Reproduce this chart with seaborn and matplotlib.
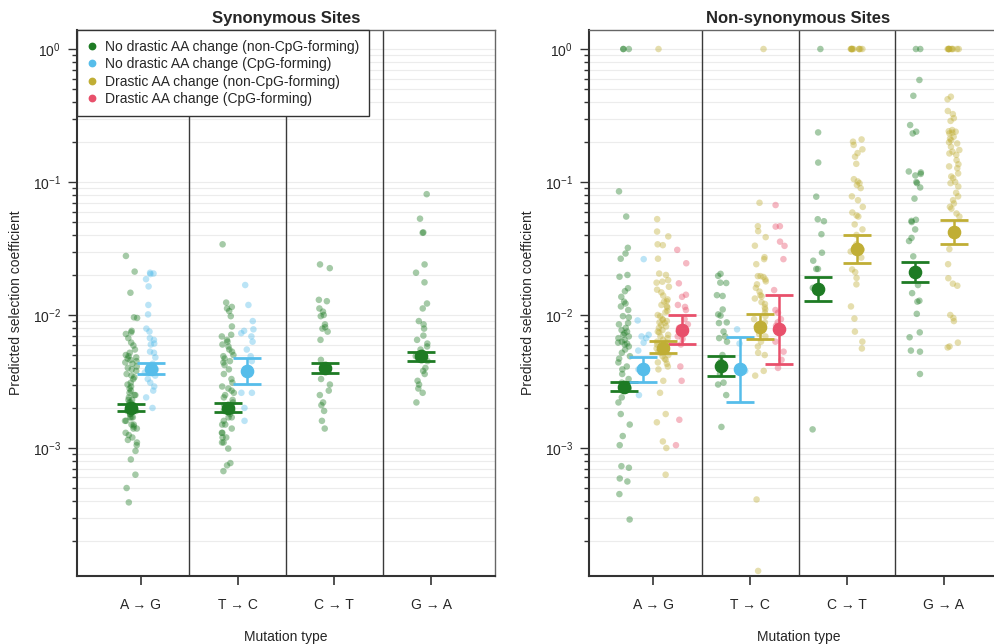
import numpy as np
import pandas as pd
import matplotlib
matplotlib.use("Agg")
import matplotlib.pyplot as plt
from matplotlib.lines import Line2D
from matplotlib.ticker import LogLocator, NullFormatter
import seaborn as sns

# ---------------- data ----------------
categories = ["A → G", "T → C", "C → T", "G → A"]
group_labels = [
    "No drastic AA change (non-CpG-forming)",
    "No drastic AA change (CpG-forming)",
    "Drastic AA change (non-CpG-forming)",
    "Drastic AA change (CpG-forming)",
]

# Synonymous sites: individual points
syn_AG_noncpg = [0.0278, 0.0212, 0.0147, 0.0096, 0.0095, 0.0076, 0.0074, 0.0072, 0.0067, 0.0062,
                 0.0059, 0.0055, 0.0052, 0.0050, 0.0049, 0.0048, 0.0047, 0.0046, 0.0045, 0.0044,
                 0.0043, 0.0041, 0.0040, 0.0039, 0.0038, 0.0036, 0.0035, 0.0034, 0.0033, 0.0031,
                 0.0030, 0.0029, 0.0028, 0.0027, 0.0026, 0.0025, 0.0025, 0.0024, 0.0023, 0.0023,
                 0.0022, 0.0022, 0.0021, 0.0021, 0.0020, 0.0020, 0.0020, 0.0019, 0.0019, 0.0019,
                 0.0018, 0.0018, 0.0017, 0.0017, 0.0017, 0.0016, 0.0016, 0.0015, 0.0015, 0.00145,
                 0.0014, 0.0014, 0.0013, 0.00125, 0.0012, 0.00115, 0.0011, 0.00105, 0.00095,
                 0.00082, 0.00063, 0.0005, 0.00039]
syn_AG_cpg = [0.0208, 0.0205, 0.0203, 0.0186, 0.0164, 0.0119, 0.0101, 0.0079, 0.0075, 0.0067,
              0.0065, 0.0061, 0.0060, 0.0053, 0.0052, 0.0048, 0.0043, 0.0041, 0.0039, 0.0037,
              0.0035, 0.0033, 0.0031, 0.0029, 0.0027, 0.0024, 0.0020]
syn_TC_noncpg = [0.034, 0.0124, 0.0115, 0.0112, 0.0107, 0.0098, 0.0082, 0.0071, 0.0069, 0.0065,
                 0.0063, 0.0060, 0.0058, 0.0055, 0.0053, 0.0050, 0.0049, 0.0047, 0.0045, 0.0044,
                 0.0042, 0.0039, 0.0036, 0.0033, 0.0031, 0.0029, 0.0028, 0.0027, 0.0026, 0.0025,
                 0.0024, 0.0023, 0.0022, 0.0021, 0.0020, 0.0020, 0.0019, 0.0019, 0.0018, 0.0017,
                 0.0017, 0.0016, 0.0015, 0.0015, 0.0014, 0.0013, 0.0013, 0.0012, 0.0012, 0.0011,
                 0.0011, 0.00099, 0.00077, 0.00074, 0.00067]
syn_TC_cpg = [0.0168, 0.0119, 0.0090, 0.0078, 0.0076, 0.0073, 0.0069, 0.0063, 0.0055, 0.0049,
              0.0045, 0.0040, 0.0026, 0.0026, 0.0020, 0.0016]
syn_CT_noncpg = [0.024, 0.0225, 0.0130, 0.0127, 0.0112, 0.0106, 0.0100, 0.0098, 0.0085, 0.0081,
                 0.0079, 0.0075, 0.0065, 0.0046, 0.0041, 0.0038, 0.0033, 0.0030, 0.0027, 0.0025,
                 0.0022, 0.0021, 0.0019, 0.0016, 0.0014]
syn_GA_noncpg = [0.081, 0.053, 0.0418, 0.0415, 0.024, 0.0208, 0.0176, 0.0122, 0.0112, 0.0090,
                 0.0085, 0.0079, 0.0070, 0.0065, 0.0061, 0.0058, 0.0055, 0.0052, 0.0049, 0.0045,
                 0.0040, 0.0038, 0.0036, 0.0032, 0.0030, 0.0028, 0.0026, 0.0022]

# Non-synonymous sites: individual points
non_AG_noncpg = [1.0, 1.0, 1.0, 0.085, 0.055, 0.032, 0.029, 0.0265, 0.0200, 0.0194, 0.0159, 0.0151,
                 0.0137, 0.0126, 0.0122, 0.0116, 0.0109, 0.0098, 0.0096, 0.0087, 0.0085, 0.0080,
                 0.0077, 0.0075, 0.0073, 0.0071, 0.0069, 0.0067, 0.0065, 0.0063, 0.0062, 0.0061,
                 0.0060, 0.0058, 0.0055, 0.0052, 0.0049, 0.0047, 0.0044, 0.0041, 0.0039, 0.0036,
                 0.0033, 0.0031, 0.0028, 0.0027, 0.0024, 0.0022, 0.0018, 0.0015, 0.00123, 0.00105,
                 0.00073, 0.00071, 0.00059, 0.00056, 0.00045, 0.00029]
non_AG_cpg = [0.0263, 0.0091, 0.0071, 0.0069, 0.0067, 0.0062, 0.0054, 0.0039, 0.0025]
non_AG_drastic = [1.0, 0.0526, 0.0424, 0.039, 0.034, 0.0335, 0.0265, 0.0205, 0.0200, 0.0183, 0.0178,
                  0.0175, 0.0163, 0.0155, 0.0148, 0.0140, 0.0131, 0.0127, 0.0126, 0.0119, 0.0116,
                  0.0114, 0.0107, 0.0105, 0.0100, 0.0098, 0.0093, 0.0092, 0.0090, 0.0088, 0.0087,
                  0.0084, 0.0082, 0.0080, 0.0077, 0.0075, 0.0074, 0.0071, 0.0069, 0.0067, 0.0065,
                  0.0063, 0.0062, 0.0060, 0.0058, 0.0056, 0.0055, 0.0053, 0.0052, 0.0050, 0.0049,
                  0.0047, 0.0046, 0.0044, 0.0043, 0.0041, 0.0039, 0.0032, 0.0026, 0.0018, 0.00156,
                  0.00112, 0.00100, 0.00063]
non_AG_drastic_cpg = [0.0309, 0.0245, 0.0173, 0.0142, 0.0137, 0.0119, 0.0115, 0.0109, 0.0093,
                      0.0085, 0.0080, 0.0075, 0.0069, 0.0066, 0.0060, 0.0041, 0.0032, 0.00163, 0.00105]
non_TC_noncpg = [0.0204, 0.0197, 0.0175, 0.0174, 0.0141, 0.0139, 0.0110, 0.0101, 0.0099, 0.0088,
                 0.0087, 0.0075, 0.0069, 0.0067, 0.0063, 0.0050, 0.0045, 0.0041, 0.0036, 0.0031,
                 0.0030, 0.0025, 0.00144]
non_TC_cpg = [0.0078, 0.0061, 0.0038]
non_TC_drastic = [1.0, 0.0698, 0.0465, 0.0427, 0.0385, 0.0332, 0.0272, 0.0263, 0.0241, 0.0196,
                  0.0196, 0.0193, 0.0185, 0.0179, 0.0170, 0.0160, 0.0150, 0.0141, 0.0138, 0.0133,
                  0.0125, 0.0121, 0.0114, 0.0110, 0.0104, 0.0098, 0.0093, 0.0088, 0.0082, 0.0077,
                  0.0072, 0.0069, 0.0063, 0.0058, 0.0052, 0.0050, 0.0038, 0.0035, 0.00041, 0.000119]
non_TC_drastic_cpg = [0.0671, 0.0465, 0.0462, 0.0356, 0.0331, 0.0263, 0.0154, 0.0109, 0.0104,
                      0.0093, 0.0088, 0.0083, 0.0078, 0.0063, 0.0053, 0.0046, 0.0040]
non_CT_noncpg = [1.0, 0.236, 0.140, 0.0776, 0.0525, 0.0507, 0.0405, 0.0294, 0.0256, 0.0222,
                 0.0222, 0.0160, 0.0150, 0.00138]
non_CT_drastic = [1.0, 1.0, 1.0, 1.0, 1.0, 1.0, 1.0, 1.0, 1.0, 1.0,
                  0.209, 0.201, 0.190, 0.176, 0.165, 0.155, 0.137, 0.105, 0.101, 0.098, 0.095,
                  0.090, 0.078, 0.073, 0.065, 0.059, 0.056, 0.055, 0.048, 0.044, 0.040, 0.034,
                  0.031, 0.030, 0.027, 0.022, 0.021, 0.019, 0.017, 0.0116, 0.0094, 0.0075,
                  0.0063, 0.0056]
non_GA_noncpg = [1.0, 1.0, 0.585, 0.445, 0.268, 0.239, 0.232, 0.120, 0.118, 0.115, 0.112, 0.100,
                 0.098, 0.091, 0.075, 0.052, 0.051, 0.050, 0.044, 0.038, 0.036, 0.0276, 0.0168,
                 0.0146, 0.0128, 0.0126, 0.0102, 0.0074, 0.0068, 0.0054, 0.0053, 0.0036]
non_GA_drastic = [1.0, 1.0, 1.0, 1.0, 1.0, 1.0, 1.0, 1.0, 1.0, 1.0,
                  0.438, 0.419, 0.342, 0.324, 0.302, 0.288, 0.246, 0.241, 0.239, 0.235, 0.232,
                  0.219, 0.212, 0.206, 0.199, 0.195, 0.184, 0.174, 0.169, 0.164, 0.160, 0.146,
                  0.136, 0.131, 0.127, 0.116, 0.110, 0.107, 0.100, 0.098, 0.0925, 0.083, 0.078,
                  0.073, 0.069, 0.065, 0.063, 0.058, 0.055, 0.0313, 0.0241, 0.0189, 0.0172,
                  0.0166, 0.0100, 0.0095, 0.0090, 0.0062, 0.0058, 0.0057]

# Means and confidence limits (per category; NaN = group absent)
nan = float("nan")
syn_mean_noncpg = [2.00e-3, 2.01e-3, 3.97e-3, 4.92e-3]
syn_lo_noncpg = [1.90e-3, 1.87e-3, 3.65e-3, 4.53e-3]
syn_hi_noncpg = [2.14e-3, 2.18e-3, 4.38e-3, 5.27e-3]
syn_mean_cpg = [3.93e-3, 3.77e-3, nan, nan]
syn_lo_cpg = [3.60e-3, 3.03e-3, nan, nan]
syn_hi_cpg = [4.35e-3, 4.72e-3, nan, nan]

non_mean_noncpg = [2.89e-3, 4.11e-3, 1.58e-2, 2.11e-2]
non_lo_noncpg = [2.70e-3, 3.46e-3, 1.27e-2, 1.78e-2]
non_hi_noncpg = [3.12e-3, 4.92e-3, 1.94e-2, 2.50e-2]
non_mean_cpg = [3.90e-3, 3.90e-3, nan, nan]
non_lo_cpg = [3.13e-3, 2.22e-3, nan, nan]
non_hi_cpg = [4.86e-3, 6.87e-3, nan, nan]
non_mean_drastic = [5.68e-3, 8.17e-3, 3.12e-2, 4.19e-2]
non_lo_drastic = [5.15e-3, 6.64e-3, 2.45e-2, 3.44e-2]
non_hi_drastic = [6.34e-3, 1.01e-2, 3.97e-2, 5.15e-2]
non_mean_drastic_cpg = [7.76e-3, 7.80e-3, nan, nan]
non_lo_drastic_cpg = [6.05e-3, 4.28e-3, nan, nan]
non_hi_drastic_cpg = [1.005e-2, 1.42e-2, nan, nan]

# ---------------- style ----------------
palette = {
    group_labels[0]: "#1E7B24",
    group_labels[1]: "#56BDEA",
    group_labels[2]: "#C0AE35",
    group_labels[3]: "#E8506B",
}

sns.set_theme(style="white")
plt.rcParams["font.family"] = ["Liberation Sans", "DejaVu Sans"]
plt.rcParams["axes.unicode_minus"] = False

g0, g1, g2, g3 = group_labels
syn_points = {
    (0, g0): syn_AG_noncpg, (0, g1): syn_AG_cpg,
    (1, g0): syn_TC_noncpg, (1, g1): syn_TC_cpg,
    (2, g0): syn_CT_noncpg,
    (3, g0): syn_GA_noncpg,
}
non_points = {
    (0, g0): non_AG_noncpg, (0, g1): non_AG_cpg, (0, g2): non_AG_drastic, (0, g3): non_AG_drastic_cpg,
    (1, g0): non_TC_noncpg, (1, g1): non_TC_cpg, (1, g2): non_TC_drastic, (1, g3): non_TC_drastic_cpg,
    (2, g0): non_CT_noncpg, (2, g2): non_CT_drastic,
    (3, g0): non_GA_noncpg, (3, g2): non_GA_drastic,
}
syn_summary = {
    g0: (syn_mean_noncpg, syn_lo_noncpg, syn_hi_noncpg),
    g1: (syn_mean_cpg, syn_lo_cpg, syn_hi_cpg),
}
non_summary = {
    g0: (non_mean_noncpg, non_lo_noncpg, non_hi_noncpg),
    g1: (non_mean_cpg, non_lo_cpg, non_hi_cpg),
    g2: (non_mean_drastic, non_lo_drastic, non_hi_drastic),
    g3: (non_mean_drastic_cpg, non_lo_drastic_cpg, non_hi_drastic_cpg),
}
syn_offsets = {g0: -0.1, g1: 0.1}
non_offsets = {g0: -0.3, g1: -0.1, g2: 0.1, g3: 0.3}


def to_frame(points, offsets):
    rows = []
    for (ci, g), vals in points.items():
        for v in vals:
            rows.append({"pos": round(ci + offsets[g], 3), "value": v, "group": g})
    return pd.DataFrame(rows)


W, H = 995, 644
fig = plt.figure(figsize=(W / 100, H / 100), dpi=100)
ax1 = fig.add_axes([77 / W, 68 / H, 418 / W, 546 / H])
ax2 = fig.add_axes([589 / W, 68 / H, 419 / W, 546 / H])

np.random.seed(7)
for ax, points, offsets, summary, title in [
    (ax1, syn_points, syn_offsets, syn_summary, "Synonymous Sites"),
    (ax2, non_points, non_offsets, non_summary, "Non-synonymous Sites"),
]:
    df = to_frame(points, offsets)
    sns.stripplot(data=df, x="pos", y="value", hue="group", palette=palette,
                  native_scale=True, orient="x", jitter=0.32, size=4.7, alpha=0.4,
                  linewidth=0, legend=False, ax=ax, zorder=3)
    ax.set_yscale("log")

    for g, (mean, lo, hi) in summary.items():
        for ci in range(4):
            m = mean[ci]
            if np.isnan(m):
                continue
            ax.errorbar(ci + offsets[g], m, yerr=[[m - lo[ci]], [hi[ci] - m]], fmt="o",
                        color=palette[g], ms=8.8, capsize=10, capthick=2.0,
                        elinewidth=1.8, zorder=6)

    for b in [0.5, 1.5, 2.5]:
        ax.axvline(b, color="#3a3a3a", lw=1.0, zorder=2)

    ax.set_xlim(-0.66, 3.66)
    ax.set_ylim(1.09e-4, 1.39)
    ax.yaxis.set_major_locator(LogLocator(base=10, numticks=10))
    ax.yaxis.set_minor_locator(LogLocator(base=10, subs=np.arange(2, 10) * 1.0, numticks=100))
    ax.yaxis.set_minor_formatter(NullFormatter())
    ax.set_xticks(range(4))
    ax.set_xticklabels(categories)

    ax.set_axisbelow(True)
    ax.grid(True, which="both", axis="y", color="#ececec", lw=0.8, zorder=0)
    ax.grid(False, axis="x")

    for s in ["left", "bottom"]:
        ax.spines[s].set_linewidth(1.5)
        ax.spines[s].set_color("#333333")
    for s in ["top", "right"]:
        ax.spines[s].set_linewidth(1.0)
        ax.spines[s].set_color("#666666")

    ax.tick_params(axis="y", which="major", length=6.5, width=1.0, direction="out",
                   labelsize=10, pad=5, color="#333333", left=True)
    ax.tick_params(axis="y", which="minor", length=3.5, width=1.0, direction="out",
                   color="#333333", left=True)
    ax.tick_params(axis="x", which="major", length=6.5, width=1.2, direction="out",
                   labelsize=10, pad=9, color="#333333", bottom=True)

    ax.set_xlabel("Mutation type", fontsize=10, labelpad=13)
    ax.set_ylabel("Predicted selection coefficient", fontsize=10)
    ax.yaxis.set_label_coords(-0.129, 0.5)
    ax.set_title(title, fontsize=12, fontweight="bold", pad=5)

handles = [Line2D([0], [0], marker="o", ls="", color=palette[g], markersize=4.6)
           for g in group_labels]
leg = ax1.legend(handles, group_labels, loc="upper left", bbox_to_anchor=(0, 1),
                 borderaxespad=0, frameon=True, fancybox=False, edgecolor="#333333",
                 fontsize=10, handlelength=0.8, handletextpad=0.55, labelspacing=0.25,
                 borderpad=0.7, framealpha=1)
leg.get_frame().set_linewidth(1.0)
leg.set_zorder(10)

fig.savefig("out.png", dpi=100)
